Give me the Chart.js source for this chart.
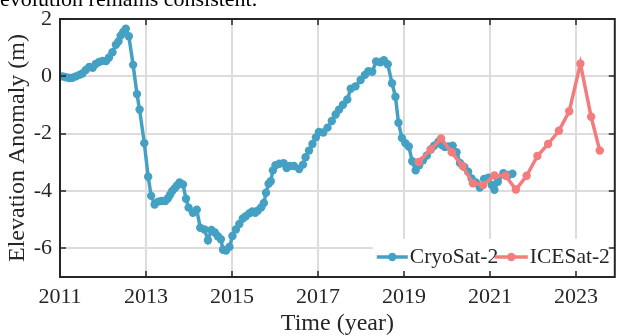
<!DOCTYPE html>
<html><head><meta charset="utf-8">
<script src="https://cdn.jsdelivr.net/npm/chart.js@4.4.1/dist/chart.umd.min.js"></script>
<style>
html,body{margin:0;padding:0;background:#fff;overflow:hidden;}
#wrap{position:relative;width:619px;height:336px;overflow:hidden;}
#cut{position:absolute;left:0px;top:-12px;font:22px/22px "Liberation Serif","Times New Roman",serif;color:#000;white-space:nowrap;}
canvas{position:absolute;left:0;top:0;}
</style></head><body>
<div id="wrap"><canvas id="c" width="619" height="336"></canvas><div id="cut">evolution remains consistent.</div></div>
<script>
const seriesNames = ['CryoSat-2', 'ICESat-2'];
const xTicks = [2011, 2013, 2015, 2017, 2019, 2021, 2023];
const yTicks = [-6, -4, -2, 0, 2];

const cryoTime = [2011.06,2011.14,2011.22,2011.29,2011.37,2011.45,2011.52,2011.60,2011.68,2011.76,2011.83,2011.91,2011.99,
2012.07,2012.14,2012.22,2012.30,2012.36,2012.41,2012.47,2012.53,2012.60,2012.70,2012.79,2012.85,2012.96,
2013.05,2013.12,2013.20,2013.28,2013.36,2013.45,2013.51,2013.56,2013.61,2013.67,2013.72,2013.78,2013.86,2013.93,2013.99,
2014.09,2014.18,2014.26,2014.36,2014.44,2014.52,2014.60,2014.67,2014.74,2014.79,2014.86,2014.94,
2015.01,2015.09,2015.17,2015.25,2015.32,2015.40,2015.47,2015.54,2015.60,2015.68,2015.74,2015.79,2015.85,2015.90,2015.95,
2016.01,2016.10,2016.20,2016.27,2016.34,2016.44,2016.56,2016.65,2016.71,2016.79,2016.87,2016.95,
2017.02,2017.12,2017.22,2017.32,2017.41,2017.49,2017.58,2017.68,2017.76,2017.87,2017.99,
2018.09,2018.17,2018.26,2018.35,2018.45,2018.53,2018.62,2018.72,2018.80,2018.87,2018.95,
2019.03,2019.11,2019.19,2019.27,2019.35,2019.44,2019.53,2019.62,2019.70,2019.80,2019.88,2019.95,
2020.03,2020.13,2020.22,2020.30,2020.40,2020.49,2020.57,2020.67,2020.76,2020.86,2020.96,
2021.04,2021.10,2021.18,2021.31,2021.42,2021.52];
const cryoElev = [0.00,-0.03,-0.06,-0.05,0.00,0.05,0.10,0.22,0.33,0.30,0.43,0.50,0.54,
0.53,0.66,0.84,1.10,1.22,1.42,1.55,1.66,1.40,0.40,-0.62,-1.16,-2.33,
-3.50,-4.17,-4.47,-4.37,-4.35,-4.35,-4.25,-4.13,-4.00,-3.90,-3.81,-3.70,-3.77,-4.27,-4.58,
-4.76,-4.65,-5.28,-5.34,-5.72,-5.36,-5.45,-5.58,-5.68,-6.05,-6.08,-5.95,
-5.57,-5.34,-5.15,-4.96,-4.88,-4.78,-4.71,-4.76,-4.68,-4.57,-4.42,-4.06,-3.75,-3.66,-3.28,
-3.10,-3.05,-3.03,-3.20,-3.13,-3.13,-3.23,-3.08,-2.82,-2.59,-2.36,-2.13,
-1.94,-1.96,-1.79,-1.56,-1.33,-1.16,-0.99,-0.81,-0.43,-0.35,-0.13,
0.05,0.18,0.16,0.52,0.49,0.56,0.42,-0.24,-0.71,-1.62,-2.15,
-2.33,-2.45,-2.96,-3.28,-3.10,-2.93,-2.76,-2.55,-2.42,-2.28,-2.40,-2.47,
-2.45,-2.42,-2.65,-3.02,-3.16,-3.33,-3.56,-3.70,-3.88,-3.58,-3.54,
-3.79,-3.96,-3.68,-3.38,-3.45,-3.40];

const iceTime = [2019.34,2019.62,2019.86,2020.11,2020.36,2020.60,2020.84,2021.10,2021.36,2021.60,2021.85,2022.10,2022.35,2022.60,2022.84,2023.10,2023.35,2023.55];
const iceElev = [-2.99,-2.55,-2.17,-2.65,-3.13,-3.73,-3.79,-3.46,-3.47,-3.95,-3.47,-2.78,-2.36,-1.90,-1.22,0.44,-1.41,-2.59];

const blue = '#45a1c3';
const red = '#f47c7c';
const ink = '#262626';
const serif = '"Liberation Serif", "Times New Roman", serif';
const colors = [blue, red];

const boxPlugin = {
  id: 'boxAndLegend',
  afterDraw(chart) {
    const {ctx, chartArea: a, scales: {x, y}} = chart;
    ctx.save();
    // legend
    ctx.fillStyle = '#fff';
    ctx.fillRect(a.right - 242, a.bottom - 38, 240, 36);
    const ly = a.bottom - 20;
    const items = [
      {x0: a.right - 238, x1: a.right - 207, tx: a.right - 205},
      {x0: a.right - 120, x1: a.right - 87, tx: a.right - 85}
    ];
    items.forEach((it, i) => {
      ctx.strokeStyle = colors[i];
      ctx.lineWidth = 3.5;
      ctx.beginPath(); ctx.moveTo(it.x0, ly); ctx.lineTo(it.x1, ly); ctx.stroke();
      ctx.fillStyle = colors[i];
      ctx.beginPath(); ctx.arc((it.x0 + it.x1) / 2, ly, 4.2, 0, Math.PI * 2); ctx.fill();
      ctx.fillStyle = ink;
      ctx.font = '21.5px ' + serif;
      ctx.textBaseline = 'middle';
      ctx.textAlign = 'left';
      ctx.fillText(seriesNames[i], it.tx, ly);
    });
    // box
    ctx.strokeStyle = ink;
    ctx.lineWidth = 2;
    ctx.strokeRect(a.left, a.top, a.right - a.left, a.bottom - a.top);
    ctx.lineWidth = 1.5;
    const tl = 6;
    ctx.beginPath();
    xTicks.forEach(v => {
      const px = Math.round(x.getPixelForValue(v));
      ctx.moveTo(px, a.bottom); ctx.lineTo(px, a.bottom - tl);
      ctx.moveTo(px, a.top); ctx.lineTo(px, a.top + tl);
    });
    yTicks.forEach(v => {
      const py = Math.round(y.getPixelForValue(v));
      ctx.moveTo(a.left, py); ctx.lineTo(a.left + tl, py);
      ctx.moveTo(a.right, py); ctx.lineTo(a.right - tl, py);
    });
    ctx.stroke();
    ctx.restore();
  }
};

const tickFont = {family: serif, size: 22, lineHeight: 1};
const titleFont = {family: serif, size: 24, lineHeight: 1};

new Chart(document.getElementById('c'), {
  type: 'line',
  data: {
    datasets: [
      {label: seriesNames[0], data: cryoTime.map((t, i) => ({x: t, y: cryoElev[i]})),
       borderColor: blue, backgroundColor: blue, borderWidth: 3.5, pointRadius: 4.2, pointHoverRadius: 4.2,
       pointBorderWidth: 0, tension: 0, order: 1},
      {label: seriesNames[1], data: iceTime.map((t, i) => ({x: t, y: iceElev[i]})),
       borderColor: red, backgroundColor: red, borderWidth: 3.5, pointRadius: 4.2, pointHoverRadius: 4.2,
       pointBorderWidth: 0, tension: 0, order: 0}
    ]
  },
  options: {
    responsive: false, animation: false, devicePixelRatio: 1,
    layout: {padding: {top: 15, right: 2, left: 0, bottom: 0}},
    plugins: {legend: {display: false}, tooltip: {enabled: false}},
    scales: {
      x: {
        type: 'linear', min: 2011, max: 2023.9,
        afterBuildTicks(s) { s.ticks = xTicks.map(v => ({value: v})); },
        afterFit(s) { s.height = 59; },
        grid: {color: '#dcdcdc', lineWidth: 2, drawTicks: false},
        border: {display: false},
        ticks: {padding: 9.5, color: ink, font: tickFont, maxRotation: 0, autoSkip: false, callback: v => String(v)},
        title: {display: true, text: 'Time (year)', color: ink, font: titleFont, padding: {top: 0, bottom: 0}}
      },
      y: {
        min: -7, max: 2,
        afterBuildTicks(s) { s.ticks = yTicks.map(v => ({value: v})); },
        afterFit(s) { s.width = 60; },
        grid: {color: '#dcdcdc', lineWidth: 2, drawTicks: false},
        border: {display: false},
        ticks: {padding: 8, color: ink, font: tickFont, autoSkip: false, callback: v => String(v)},
        title: {display: true, text: 'Elevation Anomaly (m)', color: ink, font: titleFont, padding: {top: 6, bottom: 0}}
      }
    }
  },
  plugins: [boxPlugin]
});
</script>
</body></html>
